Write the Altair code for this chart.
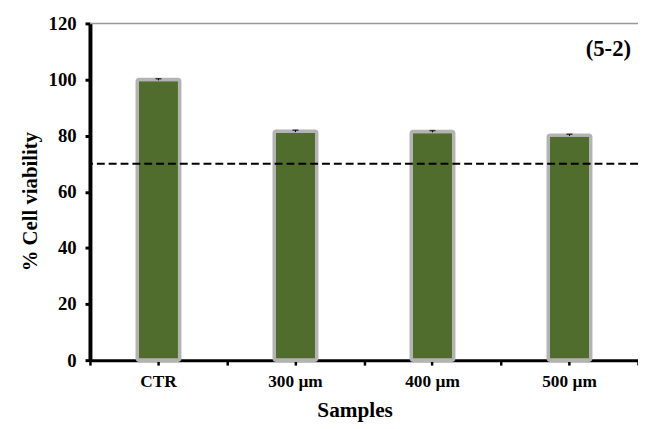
import altair as alt
import pandas as pd

samples = ["CTR", "300 µm", "400 µm", "500 µm"]
viability = [100.0, 81.6, 81.5, 80.2]
errors = [0.3, 0.35, 0.3, 0.3]
threshold = 70
panel_label = "(5-2)"

df = pd.DataFrame({"sample": samples, "v": viability, "err": errors})
df["lo"] = df["v"] - df["err"]
df["hi"] = df["v"] + df["err"]

FONT = "Liberation Serif"
W, H = 555, 341

xscale = alt.Scale(domain=samples, paddingInner=0, paddingOuter=0)
yscale = alt.Scale(domain=[0, 120])

x_main = alt.X("sample:N", scale=xscale, sort=samples,
               axis=alt.Axis(title="Samples", labelAngle=0, labelFont=FONT, labelFontSize=17.5,
                             labelFontWeight="bold", labelColor="black", labelPadding=8,
                             titleFont=FONT, titleFontSize=21.5, titleFontWeight="bold",
                             titleColor="black", titlePadding=10, titleX=268,
                             domainColor="black", domainWidth=3, tickColor="black",
                             tickWidth=2.5, tickSize=5, orient="bottom"))
y_main = alt.Y("v:Q", scale=yscale,
               axis=alt.Axis(title="% Cell viability", values=[0, 20, 40, 60, 80, 100, 120],
                             labelFont=FONT, labelFontSize=19, labelFontWeight="bold",
                             labelColor="black", labelPadding=9,
                             titleFont=FONT, titleFontSize=21, titleFontWeight="bold",
                             titleColor="black", titlePadding=8, titleY=180,
                             domainColor="black", domainWidth=4, tickColor="black",
                             tickWidth=3, tickSize=5, grid=False))

base = alt.Chart(df)

bars = base.mark_bar(color="#516d2e", stroke="#b3b3b3", strokeWidth=3.5,
                     size=43, cornerRadius=2).encode(x=x_main, y=y_main)

x_edges = alt.X("sample:N", scale=xscale, sort=samples,
                axis=alt.Axis(title=None, labels=False, tickBand="extent", domain=False,
                              tickColor="black", tickWidth=2.5, tickSize=5, orient="bottom"))

err_rule = base.mark_rule(color="black", strokeWidth=1).encode(
    x=x_edges, y=alt.Y("lo:Q", scale=yscale), y2="hi:Q")
err_cap = base.mark_tick(color="black", thickness=1.5, size=6).encode(
    x=alt.X("sample:N", scale=xscale, sort=samples, axis=None),
    y=alt.Y("hi:Q", scale=yscale))

top_line = alt.Chart(pd.DataFrame({"t": [120]})).mark_rule(color="#999999", strokeWidth=1.5).encode(
    y=alt.Y("t:Q", scale=yscale))

dash = alt.Chart(pd.DataFrame({"t": [threshold]})).mark_rule(
    color="black", strokeWidth=2, strokeDash=[8, 4]).encode(y=alt.Y("t:Q", scale=yscale))

label = alt.Chart(pd.DataFrame({"txt": [panel_label]})).mark_text(
    font=FONT, fontSize=23, fontWeight="bold", color="black", align="right", baseline="middle"
).encode(text="txt:N", x=alt.value(W - 7), y=alt.value(26))

chart = alt.layer(top_line, bars, err_rule, err_cap, dash, label).resolve_axis(
    x="independent"
).properties(
    width=W, height=H,
    autosize=alt.AutoSizeParams(type="none"),
    padding={"left": 83, "top": 13, "right": 0, "bottom": 60},
).configure_view(stroke=None)

chart.save("out.html", embed_options={"renderer": "svg", "actions": False})
